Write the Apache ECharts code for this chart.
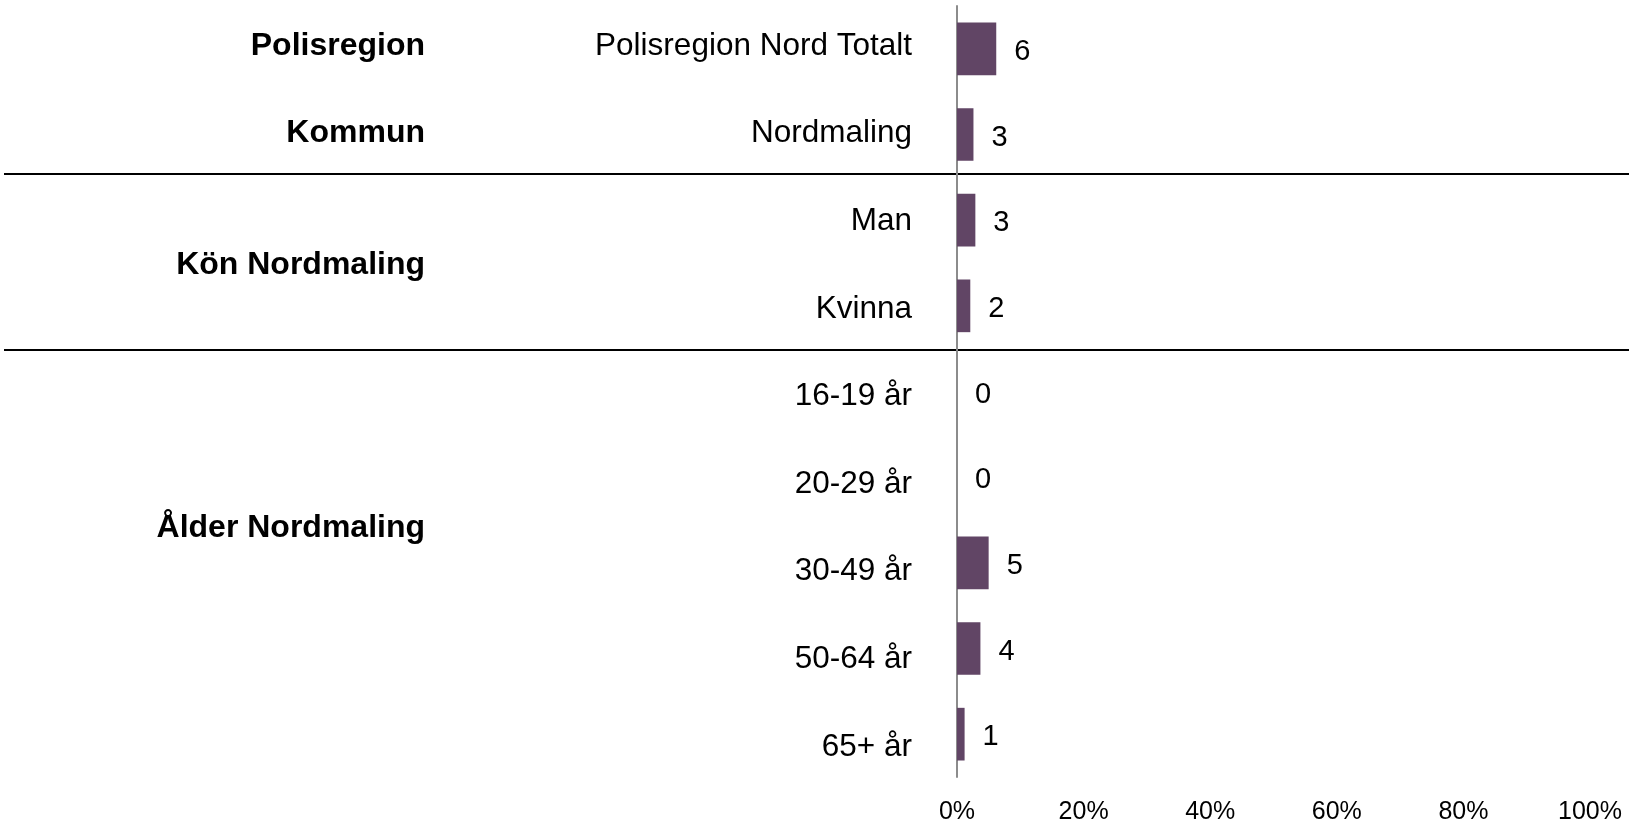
<!DOCTYPE html>
<html>
<head>
<meta charset="utf-8">
<script src="https://cdn.jsdelivr.net/npm/echarts@6/dist/echarts.min.js"></script>
<style>
html,body{margin:0;padding:0;background:#fff;}
#chart{width:1629px;height:825px;}
</style>
</head>
<body>
<div id="chart"></div>
<script>
const categories = ['Polisregion Nord Totalt','Nordmaling','Man','Kvinna','16-19 år','20-29 år','30-49 år','50-64 år','65+ år'];
const values = [6.2, 2.6, 2.9, 2.1, 0, 0, 5.0, 3.7, 1.2];
const groups = [
  {name: 'Polisregion', slot: 0},
  {name: 'Kommun', slot: 2},
  {name: 'Kön Nordmaling', slot: 5},
  {name: 'Ålder Nordmaling', slot: 11}
];
const separatorSlots = [3, 7];
const tickValues = [0, 20, 40, 60, 80, 100];

const FONT = '"Liberation Sans", Arial, sans-serif';
const nSlots = categories.length * 2 - 1;
const catSlots = [];
const groupSlots = [];
for (let j = 0; j < nSlots; j++) { catSlots.push(''); groupSlots.push(''); }
categories.forEach((c, i) => { catSlots[i * 2] = c; });
groups.forEach(g => { groupSlots[g.slot] = g.name; });

const wrap = v => v ? '{t|' + v + '}' : '';

const chart = echarts.init(document.getElementById('chart'));
const option = {
  animation: false,
  backgroundColor: '#ffffff',
  grid: [
    {left: 957, right: 39, top: 6, bottom: 45},
    {left: 957, right: 39, top: 43, bottom: 81}
  ],
  xAxis: [
    {
      type: 'value', gridIndex: 0, min: tickValues[0], max: tickValues[tickValues.length - 1],
      interval: tickValues[1] - tickValues[0],
      axisLine: {show: false}, axisTick: {show: false}, splitLine: {show: false},
      axisLabel: {formatter: '{value}%', fontFamily: FONT, fontSize: 25, color: '#000', margin: 23}
    },
    {type: 'value', gridIndex: 1, min: 0, max: 1, show: false}
  ],
  yAxis: [
    {
      type: 'category', gridIndex: 0, data: categories, inverse: true,
      axisLine: {show: true, lineStyle: {color: '#8c8c8c', width: 2}},
      axisTick: {show: false}, axisLabel: {show: false}, splitLine: {show: false}
    },
    {
      type: 'category', gridIndex: 1, data: catSlots, inverse: true, boundaryGap: false,
      axisLine: {show: false}, axisTick: {show: false}, splitLine: {show: false},
      axisLabel: {
        interval: 0, margin: 45, formatter: wrap,
        rich: {t: {fontFamily: FONT, fontSize: 31.5, color: '#000', padding: [6, 0, 0, 0]}}
      }
    },
    {
      type: 'category', gridIndex: 1, data: groupSlots, inverse: true, boundaryGap: false,
      position: 'left', offset: 524,
      axisLine: {show: false}, axisTick: {show: false}, splitLine: {show: false},
      axisLabel: {
        interval: 0, margin: 8, formatter: wrap,
        rich: {t: {fontFamily: FONT, fontSize: 32, fontWeight: 'bold', color: '#000', padding: [6, 0, 0, 0]}}
      }
    }
  ],
  series: [{
    type: 'bar', xAxisIndex: 0, yAxisIndex: 0, data: values,
    barWidth: '61.5%',
    itemStyle: {color: '#614565'},
    label: {
      show: true, position: 'right', distance: 18, offset: [0, 3],
      fontFamily: FONT, fontSize: 29, color: '#000',
      formatter: p => String(Math.round(p.value))
    }
  }]
};
chart.setOption(option);

const lines = separatorSlots.map(s => {
  const y = Math.round(chart.convertToPixel({yAxisIndex: 1}, s));
  return {
    type: 'line', silent: true,
    shape: {x1: 4, y1: y, x2: 1629, y2: y},
    style: {stroke: '#000', lineWidth: 2}
  };
});
chart.setOption({graphic: lines});
</script>
</body>
</html>
